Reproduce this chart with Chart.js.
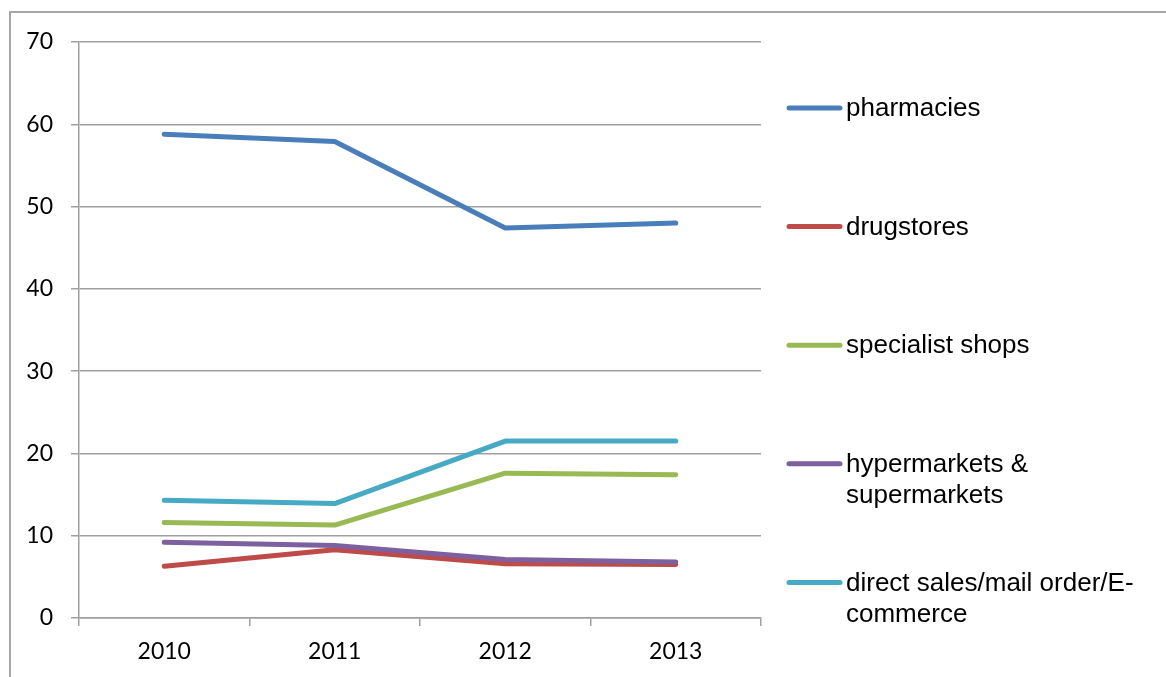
<!DOCTYPE html>
<html>
<head>
<meta charset="utf-8">
<script src="https://cdn.jsdelivr.net/npm/chart.js@4/dist/chart.umd.min.js"></script>
<style>
  html, body { margin: 0; padding: 0; background: #ffffff; }
  #wrap { position: relative; width: 1166px; height: 677px; }
</style>
</head>
<body>
<div id="wrap"><canvas id="c" width="1166" height="677"></canvas></div>
<script>
// Years on the horizontal axis
const years = ['2010', '2011', '2012', '2013'];

// Share by sales channel (%)
const pharmacies   = [58.8, 57.9, 47.4, 48.0];
const drugstores   = [6.3, 8.3, 6.6, 6.5];
const specialist   = [11.6, 11.3, 17.6, 17.4];
const hypermarkets = [9.2, 8.8, 7.1, 6.8];
const directSales  = [14.3, 13.9, 21.5, 21.5];

// Series names and how each one wraps in the legend
const seriesNames = ['pharmacies', 'drugstores', 'specialist shops',
  'hypermarkets & supermarkets', 'direct sales/mail order/E-commerce'];
const legendLines = [['pharmacies'], ['drugstores'], ['specialist shops'],
  ['hypermarkets &', 'supermarkets'], ['direct sales/mail order/E-', 'commerce']];

// Value axis
const yMin = 0, yMax = 70, yStep = 10;

const colors = ['#4a7ebb', '#be4b48', '#98b954', '#7d60a0', '#46aac5'];
const seriesValues = [pharmacies, drugstores, specialist, hypermarkets, directSales];

const gridColor = '#a0a0a0';
const tickFont = { family: 'Lato, "Open Sans", sans-serif', size: 23 };

// Frame around the whole chart
const framePlugin = {
  id: 'frame',
  beforeDraw(chart) {
    const ctx = chart.ctx;
    ctx.save();
    ctx.strokeStyle = '#a6a6a6';
    ctx.lineWidth = 2;
    ctx.strokeRect(10, 12, 1300, 800);
    ctx.restore();
  }
};

// Legend on the right with wrapped labels
const sideLegend = {
  id: 'sideLegend',
  afterDraw(chart) {
    const ctx = chart.ctx;
    ctx.save();
    ctx.font = '26px "Liberation Sans", Arial, sans-serif';
    ctx.textBaseline = 'middle';
    ctx.textAlign = 'left';
    chart.data.datasets.forEach((ds, i) => {
      const y = 108 + i * 118.6;
      ctx.strokeStyle = ds.borderColor;
      ctx.lineWidth = 5;
      ctx.lineCap = 'round';
      ctx.beginPath();
      ctx.moveTo(789, y);
      ctx.lineTo(840, y);
      ctx.stroke();
      ctx.fillStyle = '#000000';
      legendLines[i].forEach((t, k) => ctx.fillText(t, 846, y + 1 + k * 31.5));
    });
    ctx.restore();
  }
};

new Chart(document.getElementById('c'), {
  type: 'line',
  data: {
    labels: years,
    datasets: seriesValues.map((vals, i) => ({
      label: seriesNames[i],
      data: vals,
      borderColor: colors[i],
      backgroundColor: colors[i],
      borderWidth: 5,
      borderCapStyle: 'round',
      borderJoinStyle: 'round',
      pointRadius: 0,
      tension: 0,
      fill: false,
      order: seriesValues.length - i
    }))
  },
  options: {
    responsive: false,
    animation: false,
    devicePixelRatio: 1,
    layout: { padding: { left: 0, top: 42, right: 405, bottom: 0 } },
    plugins: {
      legend: { display: false },
      tooltip: { enabled: false }
    },
    scales: {
      x: {
        offset: true,
        afterFit(scale) { scale.height = 59; },
        grid: {
          offset: true,
          drawOnChartArea: false,
          drawTicks: true,
          tickLength: 8,
          color: gridColor,
          lineWidth: 1.5
        },
        border: { display: true, color: gridColor, width: 1.5 },
        ticks: {
          color: '#000000',
          font: tickFont,
          padding: 12,
          maxRotation: 0
        }
      },
      y: {
        min: yMin,
        max: yMax,
        afterFit(scale) { scale.width = 79; },
        grid: {
          drawOnChartArea: true,
          drawTicks: true,
          tickLength: 8,
          color: gridColor,
          lineWidth: 1.5
        },
        border: { display: true, color: gridColor, width: 1.5 },
        ticks: {
          stepSize: yStep,
          color: '#000000',
          font: tickFont,
          padding: 18
        }
      }
    }
  },
  plugins: [framePlugin, sideLegend]
});
</script>
</body>
</html>
